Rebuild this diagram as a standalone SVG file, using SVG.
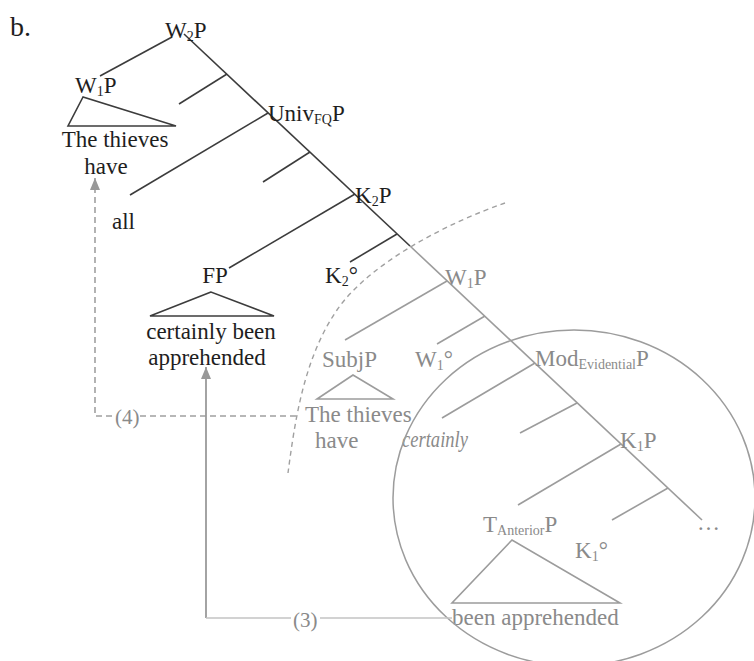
<svg xmlns="http://www.w3.org/2000/svg" width="754" height="661" viewBox="0 0 754 661">
<style>
text{font-family:"Liberation Serif","Times New Roman",serif;font-size:23px}
.k{fill:#1e1e1e}
.g{fill:#8a8a8a}
.sub{font-size:14px}
.lk{stroke:#3c3c3c;stroke-width:1.6;fill:none}
.lg{stroke:#9c9c9c;stroke-width:1.6;fill:none}
.arc{stroke:#a0a0a0;stroke-width:1.4;fill:none;stroke-dasharray:5 4}
.dl{stroke:#a0a0a0;stroke-width:1.6;fill:none;stroke-dasharray:6 4}
.sl{stroke:#9a9a9a;stroke-width:1.8;fill:none}
.sl2{stroke:#c4c4c4;stroke-width:1.4;fill:none}
</style>
<defs>
<marker id="ah" viewBox="0 0 10 12" refX="5" refY="0" markerWidth="10" markerHeight="12" markerUnits="userSpaceOnUse" orient="0"><path d="M0,12L5,0L10,12z" fill="#999"/></marker>
</defs>

<text x="10" y="36" class="k" style="font-size:28px">b.</text>

<g id="tree-lines">
<path class="lk" d="M184,34L410,246"/>
<path class="lg" d="M410,246L702,520"/>
<path class="lk" d="M172,37L100,76"/>
<path class="lk" d="M227,74L179,104"/>
<path class="lk" d="M268,113L130,195"/>
<path class="lk" d="M310,152L263,182"/>
<path class="lk" d="M355,194L229,268"/>
<path class="lk" d="M397,234L350,262"/>
<path class="lg" d="M447,281L345,340"/>
<path class="lg" d="M485,316L437,344"/>
<path class="lg" d="M535,363L442,418"/>
<path class="lg" d="M577,403L520,433"/>
<path class="lg" d="M621,444L518,505"/>
<path class="lg" d="M668,488L612,520"/>
</g>

<g id="W2P"><text x="165" y="38" class="k">W<tspan class="sub" dy="3">2</tspan><tspan dy="-3">P</tspan></text></g>
<g id="W1P-top">
<text x="75" y="93" class="k">W<tspan class="sub" dy="3">1</tspan><tspan dy="-3">P</tspan></text>
<path class="lk" d="M83,97L68,126L176,126Z"/>
<text x="115" y="147" class="k" text-anchor="middle">The thieves</text>
<text x="106" y="174" class="k" text-anchor="middle">have</text>
</g>
<g id="UnivP"><text x="268" y="121" class="k">Univ<tspan class="sub" dy="3">FQ</tspan><tspan dy="-3">P</tspan></text></g>
<g id="all"><text x="112" y="229" class="k">all</text></g>
<g id="K2P"><text x="355" y="203" class="k">K<tspan class="sub" dy="3">2</tspan><tspan dy="-3">P</tspan></text></g>
<g id="FP">
<text x="215" y="283" class="k" text-anchor="middle">FP</text>
<path class="lk" d="M211,292L150,316L274,316Z"/>
<text x="211" y="339" class="k" text-anchor="middle">certainly been</text>
<text x="207" y="365" class="k" text-anchor="middle">apprehended</text>
</g>
<g id="K2head"><text x="325" y="283" class="k">K<tspan class="sub" dy="3">2</tspan><tspan dy="-3">°</tspan></text></g>

<g id="W1P-low"><text x="445" y="285" class="g">W<tspan class="sub" dy="3">1</tspan><tspan dy="-3">P</tspan></text></g>
<g id="SubjP">
<text x="322" y="367" class="g">SubjP</text>
<path class="lg" d="M353,375L317,399L393,399Z"/>
<text x="305" y="422" class="g">The thieves</text>
<text x="315" y="448" class="g">have</text>
</g>
<g id="W1head"><text x="415" y="367" class="g">W<tspan class="sub" dy="3">1</tspan><tspan dy="-3">°</tspan></text></g>
<g id="ModP"><text x="535" y="366" class="g">Mod<tspan class="sub" dy="3">Evidential</tspan><tspan dy="-3">P</tspan></text></g>
<g id="certainly"><text x="402" y="447" class="g" style="font-style:italic" textLength="66" lengthAdjust="spacingAndGlyphs">certainly</text></g>
<g id="K1P"><text x="620" y="448" class="g">K<tspan class="sub" dy="3">1</tspan><tspan dy="-3">P</tspan></text></g>
<g id="TP">
<text x="483" y="532" class="g">T<tspan class="sub" dy="3">Anterior</tspan><tspan dy="-3">P</tspan></text>
<path class="lg" d="M512,540L452,603L620,603Z"/>
<text x="452" y="625" class="g">been apprehended</text>
</g>
<g id="K1head"><text x="575" y="558" class="g">K<tspan class="sub" dy="3">1</tspan><tspan dy="-3">°</tspan></text></g>
<g id="ellipsis"><text x="697" y="530" class="g">…</text></g>

<g id="regions">
<path class="arc" d="M505,203C450,222 370,262 337,310S295,420 288,473"/>
<ellipse cx="574" cy="498" rx="181" ry="168" fill="none" stroke="#9c9c9c" stroke-width="1.5"/>
</g>

<g id="connectors">
<path class="dl" d="M112,416H95V178" marker-end="url(#ah)"/>
<path class="dl" d="M140,416H300"/>
<text x="115" y="424" class="g" style="font-size:21px">(4)</text>
<path class="sl" d="M206,618V367" marker-end="url(#ah)"/>
<path class="sl2" d="M206,618H291M320,618H452"/>
<text x="293" y="627" class="g" style="font-size:21px">(3)</text>
</g>
</svg>
